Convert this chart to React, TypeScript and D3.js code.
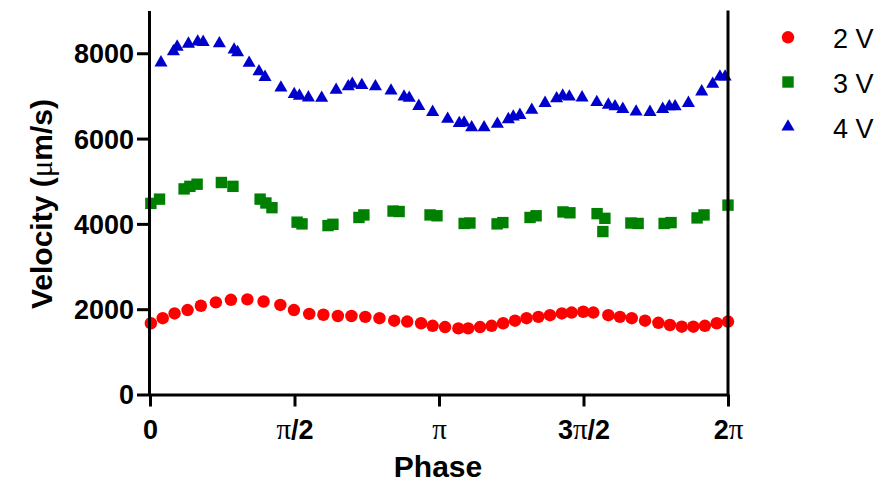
import React, { useEffect, useRef } from 'react';
import * as d3 from 'd3';

// phase in units of pi, velocity in um/s
const phase2V = [0.003, 0.044, 0.085, 0.13, 0.176, 0.228, 0.28, 0.337, 0.393, 0.451, 0.498, 0.551, 0.6, 0.65, 0.697, 0.745, 0.794, 0.845, 0.89, 0.938, 0.978, 1.021, 1.067, 1.101, 1.142, 1.182, 1.222, 1.263, 1.303, 1.344, 1.384, 1.425, 1.459, 1.499, 1.534, 1.586, 1.626, 1.667, 1.713, 1.759, 1.799, 1.84, 1.88, 1.92, 1.961, 2.0];
const vel2V = [1670, 1790, 1900, 1980, 2080, 2160, 2220, 2230, 2180, 2100, 1980, 1890, 1870, 1840, 1840, 1820, 1790, 1730, 1710, 1670, 1610, 1580, 1550, 1550, 1580, 1610, 1670, 1730, 1790, 1820, 1860, 1900, 1920, 1940, 1920, 1860, 1820, 1790, 1730, 1680, 1630, 1590, 1590, 1610, 1670, 1710];

const phase3V = [0.003, 0.033, 0.118, 0.138, 0.163, 0.247, 0.287, 0.381, 0.401, 0.422, 0.509, 0.526, 0.616, 0.633, 0.723, 0.74, 0.841, 0.862, 0.969, 0.993, 1.087, 1.107, 1.201, 1.221, 1.315, 1.336, 1.429, 1.453, 1.547, 1.574, 1.567, 1.664, 1.689, 1.779, 1.803, 1.893, 1.917, 2.0];
const vel3V = [4480, 4580, 4820, 4880, 4930, 4970, 4880, 4580, 4490, 4380, 4040, 4000, 3960, 3990, 4150, 4210, 4300, 4290, 4210, 4190, 4010, 4020, 4000, 4030, 4150, 4190, 4280, 4260, 4240, 4130, 3820, 4020, 4010, 4010, 4030, 4140, 4210, 4440];

const phase4V = [0.038, 0.081, 0.094, 0.133, 0.165, 0.184, 0.24, 0.291, 0.303, 0.343, 0.377, 0.398, 0.453, 0.499, 0.517, 0.548, 0.594, 0.644, 0.686, 0.7, 0.733, 0.78, 0.834, 0.879, 0.897, 0.93, 0.978, 1.03, 1.07, 1.087, 1.113, 1.156, 1.202, 1.24, 1.257, 1.28, 1.321, 1.367, 1.407, 1.428, 1.451, 1.495, 1.546, 1.586, 1.609, 1.636, 1.682, 1.73, 1.774, 1.797, 1.817, 1.863, 1.909, 1.947, 1.972, 1.99];
const vel4V = [7780, 8040, 8150, 8220, 8270, 8260, 8230, 8080, 8020, 7770, 7570, 7440, 7190, 7040, 7000, 6960, 6950, 7140, 7220, 7280, 7250, 7220, 7120, 6980, 6950, 6760, 6620, 6460, 6360, 6370, 6260, 6260, 6340, 6450, 6510, 6550, 6670, 6830, 6940, 7000, 6980, 6960, 6850, 6790, 6750, 6690, 6630, 6620, 6690, 6750, 6750, 6830, 7100, 7280, 7450, 7450];

const yTicks = [0, 2000, 4000, 6000, 8000];
const xTicks = [0, 0.5, 1, 1.5, 2];
const xTickLabels = [['0', ''], ['', '/2'], ['', ''], ['3', '/2'], ['2', '']];
const legendLabels = ['2 V', '3 V', '4 V'];

const FONT = 'Liberation Sans, Arial, sans-serif';
const PI_FONT = 'Liberation Serif, serif';

export default function App() {
  const ref = useRef<SVGSVGElement>(null);

  useEffect(() => {
    const svg = d3.select(ref.current);
    svg.selectAll('*').remove();

    const x = d3.scaleLinear().domain([0, 2]).range([150, 728]);
    const y = d3.scaleLinear().domain([0, 9000]).range([394.5, 10.6]);

    const series = [
      { phase: phase2V, vel: vel2V, color: '#ff0000', type: d3.symbolCircle, size: 122 },
      { phase: phase3V, vel: vel3V, color: '#008000', type: d3.symbolSquare, size: 130 },
      { phase: phase4V, vel: vel4V, color: '#0000cc', type: d3.symbolTriangle, size: 74 },
    ];

    series.forEach(s => {
      const sym = d3.symbol().type(s.type).size(s.size);
      svg.append('g')
        .selectAll('path')
        .data(s.phase.map((p, i) => [p, s.vel[i]]))
        .enter()
        .append('path')
        .attr('d', sym)
        .attr('fill', s.color)
        .attr('transform', d => `translate(${x(d[0])},${y(d[1])})`);
    });

    // y axis
    const yAxis = svg.append('g').attr('transform', 'translate(149,0)');
    yAxis.call(d3.axisLeft(y).tickValues(yTicks).tickSize(12).tickSizeOuter(0).tickFormat(d3.format('d')));
    yAxis.select('.domain').attr('stroke', '#000').attr('stroke-width', 3);
    yAxis.selectAll('.tick line').attr('stroke-width', 3);
    yAxis.selectAll('.tick text')
      .attr('x', -15)
      .attr('dy', '0.35em')
      .style('font', `bold 27px ${FONT}`)
      .attr('fill', '#000');

    // x axis
    const xAxis = svg.append('g').attr('transform', 'translate(0,394.5)');
    xAxis.call(d3.axisBottom(x).tickValues(xTicks).tickSize(12).tickSizeOuter(0).tickFormat(() => ''));
    xAxis.select('.domain').attr('stroke', '#000').attr('stroke-width', 3);
    xAxis.selectAll('.tick line').attr('stroke-width', 3);
    xAxis.selectAll('.tick text').remove();
    xAxis.selectAll('.tick').each(function (_, i) {
      const t = d3.select(this)
        .append('text')
        .attr('y', 44)
        .attr('text-anchor', 'middle')
        .attr('fill', '#000')
        .style('font', `bold 27px ${FONT}`);
      const [pre, post] = xTickLabels[i];
      if (i === 0) {
        t.text('0');
        return;
      }
      if (pre) t.append('tspan').text(pre);
      t.append('tspan').style('font', `normal 29px ${PI_FONT}`).text('π');
      if (post) t.append('tspan').text(post);
    });

    // right frame line
    svg.append('line')
      .attr('x1', 728).attr('x2', 728)
      .attr('y1', y(9000)).attr('y2', 396)
      .attr('stroke', '#000').attr('stroke-width', 3);

    // axis titles
    svg.append('text')
      .attr('x', 438).attr('y', 477)
      .attr('text-anchor', 'middle')
      .style('font', `bold 30px ${FONT}`)
      .text('Phase');

    const yl = svg.append('text')
      .attr('transform', 'translate(52,204) rotate(-90)')
      .attr('text-anchor', 'middle')
      .style('font', `bold 30px ${FONT}`);
    yl.append('tspan').text('Velocity (');
    yl.append('tspan').style('font', `normal 31px ${PI_FONT}`).text('μ');
    yl.append('tspan').text('m/s)');

    // legend
    const lg = svg.append('g');
    series.forEach((s, i) => {
      const cy = 37.3 + i * 44.7;
      lg.append('path')
        .attr('d', d3.symbol().type(s.type).size(s.size)())
        .attr('fill', s.color)
        .attr('transform', `translate(788,${cy})`);
      lg.append('text')
        .attr('x', 833)
        .attr('y', cy + 11)
        .style('font', `normal 27px ${FONT}`)
        .text(legendLabels[i]);
    });
  }, []);

  return (
    <svg
      ref={ref}
      width={885}
      height={485}
      style={{ position: 'absolute', left: 0, top: 0, background: '#fff' }}
    />
  );
}
